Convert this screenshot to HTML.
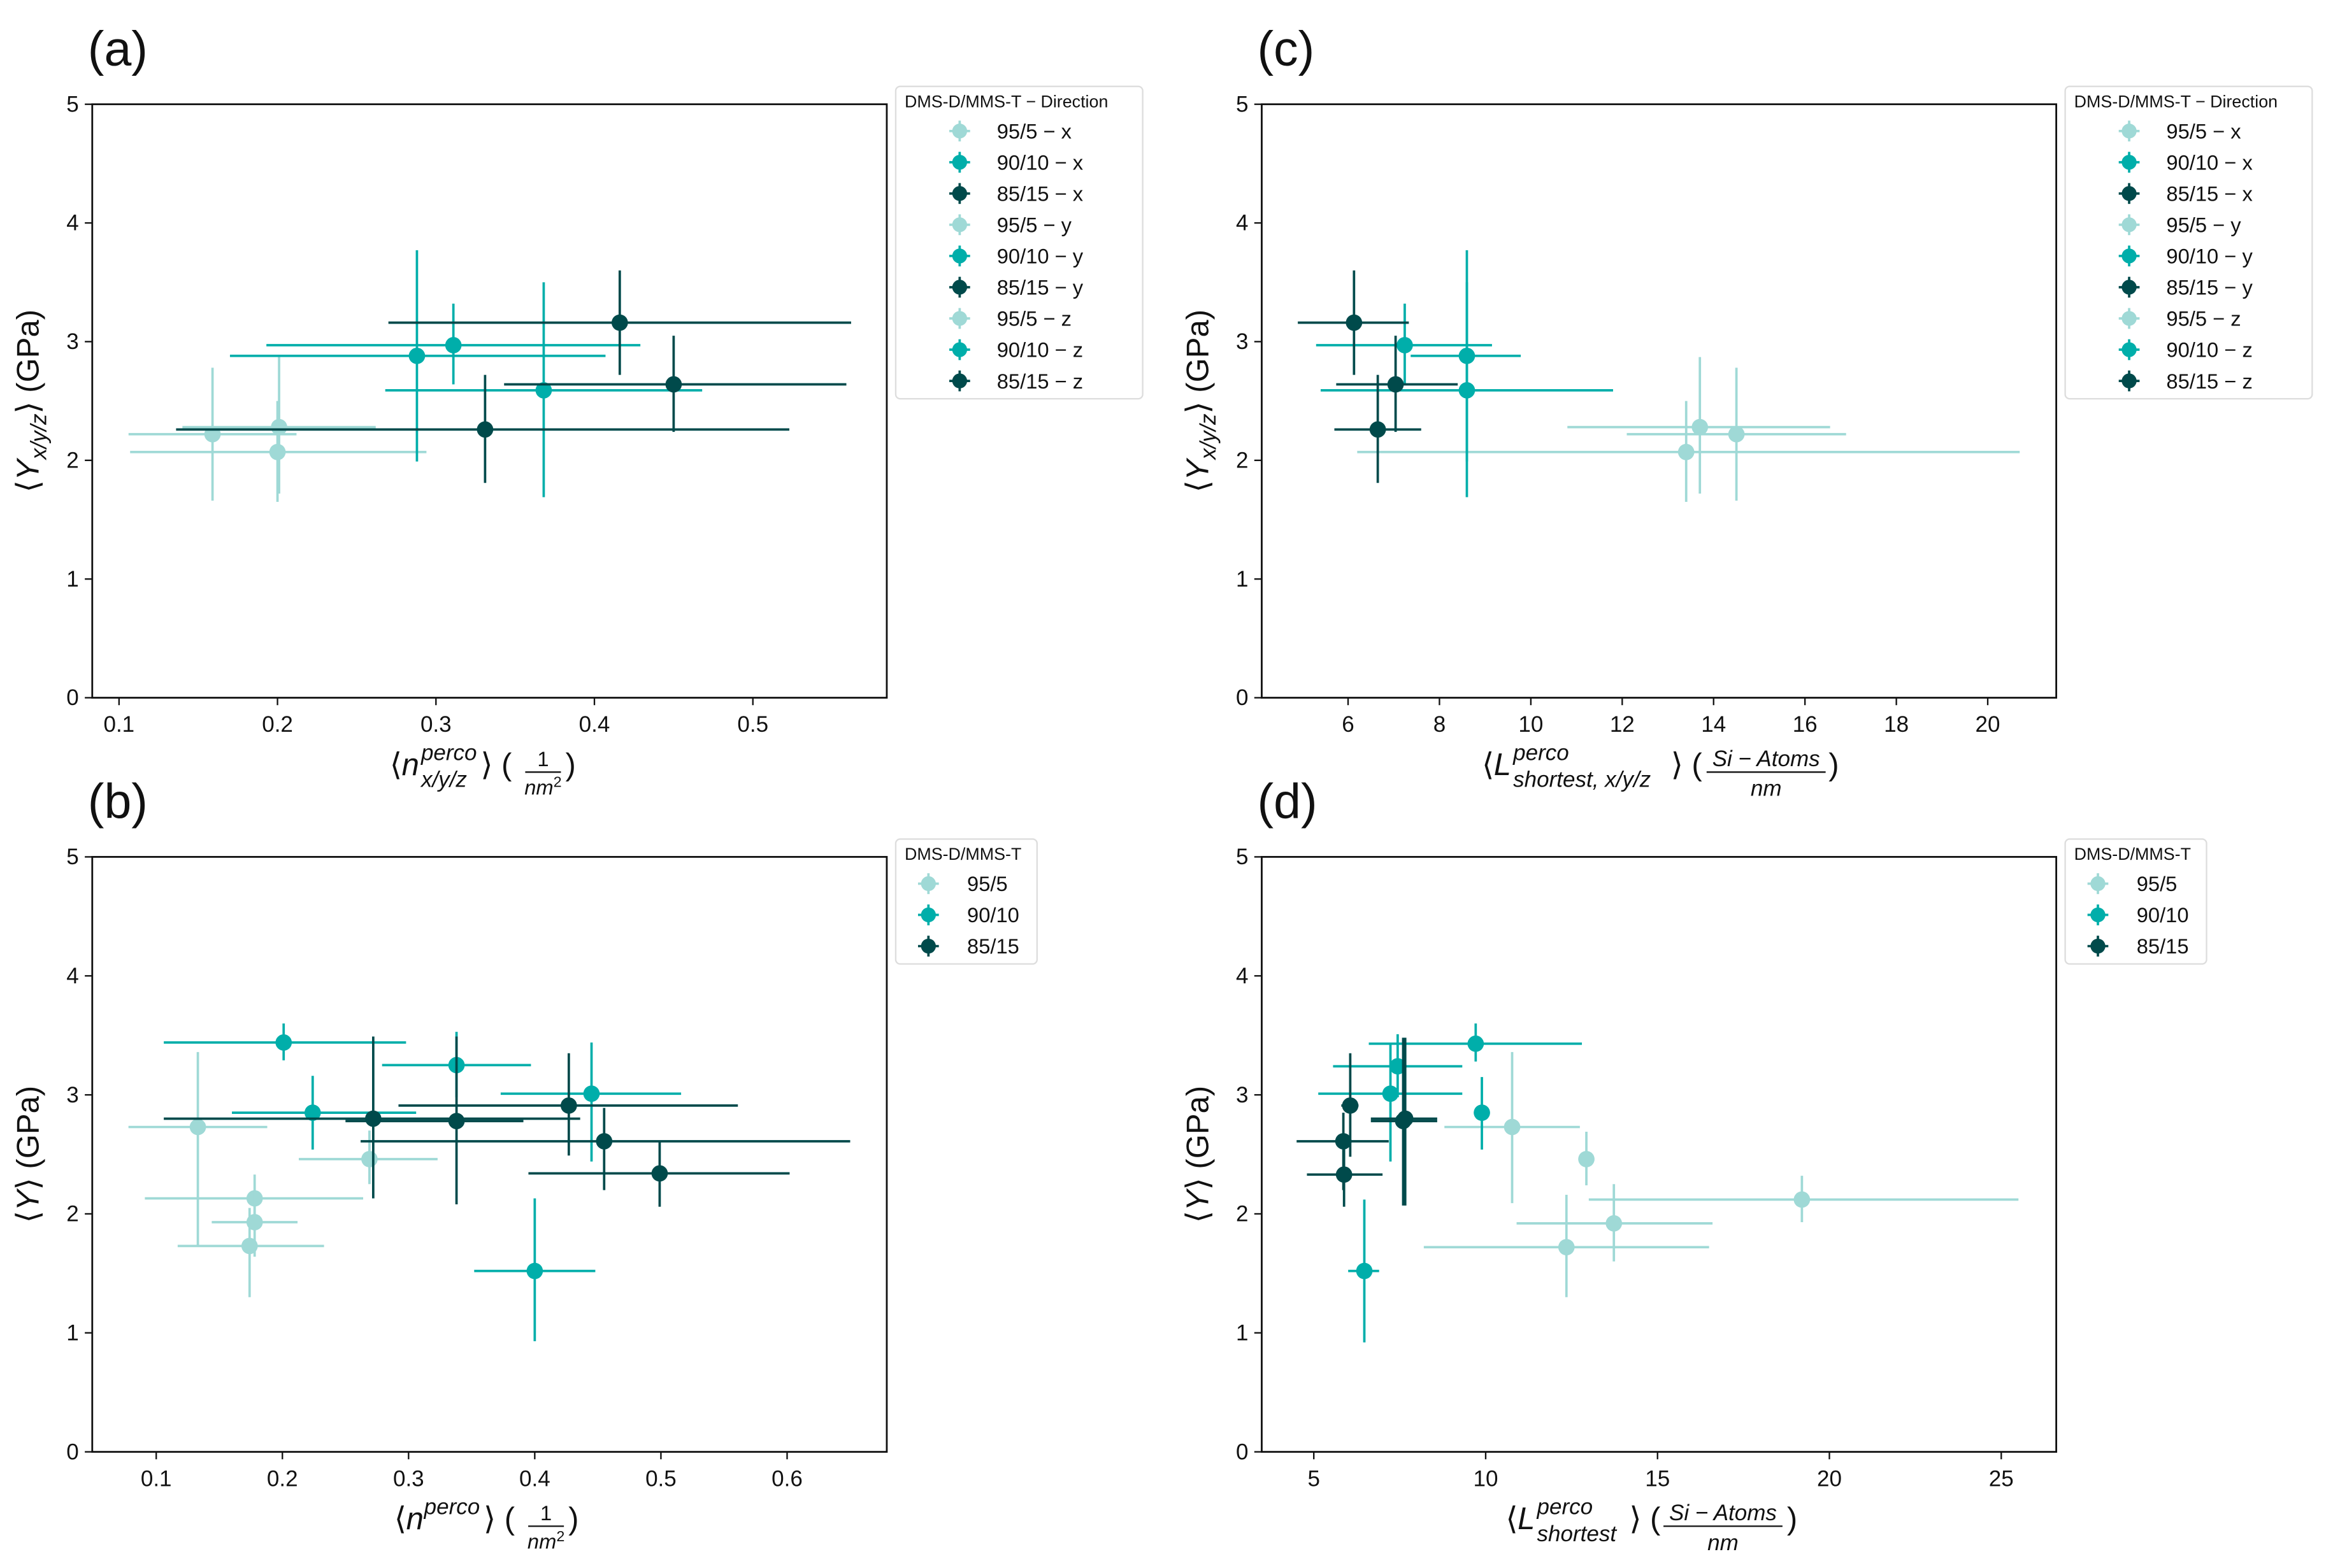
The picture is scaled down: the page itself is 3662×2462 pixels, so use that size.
<!DOCTYPE html>
<html><head><meta charset="utf-8"><style>
html,body{margin:0;padding:0;background:#fff}
svg{display:block}
text{font-family:"Liberation Sans","DejaVu Sans",sans-serif;fill:#111}
</style></head><body>
<svg id="fig" width="3662" height="2462" viewBox="0 0 1568 1054" xmlns="http://www.w3.org/2000/svg"></svg>
<script>
const COLORS=['#9fd9d6','#00aeaa','#004a4b'];
const GROUPS=['95/5','90/10','85/15'];
const DIRS=['x','y','z'];
const aX=[[0.159,0.201,0.200],[0.288,0.311,0.368],[0.416,0.331,0.450]];
const aXlo=[[0.106,0.140,0.107],[0.170,0.193,0.268],[0.270,0.136,0.343]];
const aXhi=[[0.212,0.262,0.294],[0.407,0.429,0.468],[0.562,0.523,0.559]];
const aY=[[2.22,2.28,2.07],[2.88,2.97,2.59],[3.16,2.26,2.64]];
const aYlo=[[1.66,1.72,1.65],[1.99,2.64,1.69],[2.72,1.81,2.24]];
const aYhi=[[2.78,2.87,2.50],[3.77,3.32,3.50],[3.60,2.72,3.05]];
const cX=[[14.5,13.7,13.4],[8.6,7.24,8.6],[6.13,6.65,7.04]];
const cXlo=[[12.1,10.8,6.2],[7.37,5.3,5.4],[4.9,5.7,5.74]];
const cXhi=[[16.9,16.55,20.7],[9.78,9.15,11.8],[7.33,7.6,8.4]];
const bX=[[0.133,0.178,0.178,0.174,0.269],[0.201,0.224,0.338,0.445,0.400],[0.272,0.338,0.427,0.455,0.499]];
const bXlo=[[0.078,0.091,0.144,0.117,0.213],[0.106,0.160,0.279,0.373,0.352],[0.106,0.250,0.292,0.262,0.395]];
const bXhi=[[0.188,0.264,0.212,0.233,0.323],[0.298,0.306,0.397,0.516,0.448],[0.436,0.391,0.561,0.650,0.602]];
const bY=[[2.73,2.13,1.93,1.73,2.46],[3.44,2.85,3.25,3.01,1.52],[2.80,2.78,2.91,2.61,2.34]];
const bYlo=[[1.73,1.93,1.64,1.30,2.25],[3.29,2.54,2.98,2.44,0.93],[2.13,2.08,2.49,2.20,2.06]];
const bYhi=[[3.36,2.33,2.20,2.05,2.70],[3.60,3.16,3.53,3.44,2.13],[3.49,3.49,3.35,2.89,2.61]];
const dX=[[10.77,12.93,19.2,13.73,12.35],[9.71,9.89,7.44,7.23,6.47],[7.66,7.6,6.06,5.86,5.88]];
const dXlo=[[8.8,12.8,13.0,10.9,8.2],[6.6,9.8,5.56,5.13,6.0],[6.66,6.66,5.8,4.5,4.8]];
const dXhi=[[12.74,13.05,25.5,16.6,16.5],[12.8,10.0,9.32,9.32,6.9],[8.59,8.59,6.3,7.18,7.0]];
const dY=[[2.73,2.46,2.12,1.92,1.72],[3.43,2.85,3.24,3.01,1.52],[2.80,2.78,2.91,2.61,2.33]];
const dYlo=[[2.09,2.24,1.93,1.60,1.30],[3.28,2.54,2.98,2.44,0.92],[2.07,2.07,2.48,2.20,2.06]];
const dYhi=[[3.36,2.69,2.32,2.25,2.16],[3.60,3.15,3.51,3.43,2.12],[3.48,3.48,3.35,2.85,2.60]];
const xTicksA=[0.1,0.2,0.3,0.4,0.5];
const xTicksB=[0.1,0.2,0.3,0.4,0.5,0.6];
const xTicksC=[6,8,10,12,14,16,18,20];
const xTicksD=[5,10,15,20,25];
const yTicks=[0,1,2,3,4,5];

const NS='http://www.w3.org/2000/svg';
const svg=document.getElementById('fig');
function el(tag,attrs,parent,txt){const e=document.createElementNS(NS,tag);for(const k in attrs)e.setAttribute(k,attrs[k]);if(txt!==undefined)e.textContent=txt;(parent||svg).appendChild(e);return e;}

function panel(cfg){
  const g=el('g',{});
  
  
  const L=cfg.L,R=cfg.R,T=cfg.T,B=cfg.B;
  const sx=v=>L+(v-cfg.xmin)/(cfg.xmax-cfg.xmin)*(R-L);
  const sy=v=>B-(v-0)/(5-0)*(B-T);
  const lab=el('text',{x:L-3,y:T-26,'font-size':33},g,'('+cfg.id+')');
  
  
  cfg.xt.forEach(t=>{
    const x=sx(t);
    el('line',{x1:x,x2:x,y1:B,y2:B+5,stroke:'#111','stroke-width':1},g);
    const tx=el('text',{x:x,y:B+23,'font-size':15,'text-anchor':'middle'},g,String(t));
    
    
  });
  yTicks.forEach(t=>{
    const y=sy(t);
    el('line',{x1:L-5,x2:L,y1:y,y2:y,stroke:'#111','stroke-width':1},g);
    const ty=el('text',{x:L-9,y:y+5,'font-size':15,'text-anchor':'end'},g,String(t));
    
    
  });
  for(let gi=0;gi<3;gi++){
    const n=cfg.X[gi].length;
    for(let i=0;i<n;i++){
      const pg=el('g',{},g);
      
      
      const c=COLORS[gi];
      const x=sx(cfg.X[gi][i]),y=sy(cfg.Y[gi][i]);
      el('line',{x1:sx(cfg.Xlo[gi][i]),x2:sx(cfg.Xhi[gi][i]),y1:y,y2:y,stroke:c,'stroke-width':1.6},pg);
      el('line',{x1:x,x2:x,y1:sy(cfg.Ylo[gi][i]),y2:sy(cfg.Yhi[gi][i]),stroke:c,'stroke-width':1.6},pg);
      el('circle',{cx:x,cy:y,r:5.5,fill:c},pg);
    }
  }
  el('rect',{x:L,y:T,width:R-L,height:B-T,fill:'none',stroke:'#111','stroke-width':1.2},g);
  const yl=el('text',{x:0,y:0,'font-size':21,'text-anchor':'middle',transform:`translate(${L-36},${(T+B)/2}) rotate(-90)`},g);
  
  
  yl.innerHTML=cfg.ylab;
  const xl=el('g',{transform:`translate(${(L+R)/2},${B+52})`},g);
  
  
  xl.innerHTML=cfg.xlab;
  const lg=el('g',{},g);
  
  
  const entries=cfg.dirs?[].concat(...DIRS.map(d=>GROUPS.map((gname,gi)=>[gname+' \u2212 '+d,gi]))):GROUPS.map((gname,gi)=>[gname,gi]);
  const lw=cfg.dirs?166:95, lh=cfg.dirs?210:84;
  el('rect',{x:R+6,y:T-12,width:lw,height:lh,rx:3,fill:'#fff',stroke:'#ddd','stroke-width':1},lg);
  el('text',{x:R+12,y:T+2,'font-size':11.5},lg,cfg.dirs?'DMS-D/MMS-T \u2212 Direction':'DMS-D/MMS-T');
  entries.forEach((e,k)=>{
    const y=T+18+k*21, mx=R+(cfg.dirs?49:28);
    const eg=el('g',{},lg);
    
    
    const c=COLORS[e[1]];
    el('line',{x1:mx-7,x2:mx+7,y1:y,y2:y,stroke:c,'stroke-width':1.6},eg);
    el('line',{x1:mx,x2:mx,y1:y-7,y2:y+7,stroke:c,'stroke-width':1.6},eg);
    el('circle',{cx:mx,cy:y,r:5,fill:c},eg);
    el('text',{x:mx+(cfg.dirs?25:26),y:y+5,'font-size':14},eg,e[0]);
  });
}
const labA=`<text x="-67" y="0" font-size="21">\u27E8</text><text x="-59" y="0" font-size="21" font-style="italic">n</text>
<text x="-46" y="-10" font-size="15" font-style="italic">perco</text><text x="-46" y="8" font-size="15" font-style="italic">x/y/z</text>
<text x="-6" y="0" font-size="21">\u27E9</text><text x="8" y="0" font-size="21">(</text>
<text x="36" y="-6" font-size="14" text-anchor="middle">1</text><line x1="24" x2="48" y1="-2" y2="-2" stroke="#111" stroke-width="1"/><text x="36" y="13" font-size="14" font-style="italic" text-anchor="middle">nm<tspan font-size="10" dy="-5" font-style="normal">2</tspan></text>
<text x="51" y="0" font-size="21">)</text>`;
const labB=`<text x="-64" y="0" font-size="21">\u27E8</text><text x="-56" y="0" font-size="21" font-style="italic">n</text>
<text x="-44" y="-10" font-size="15" font-style="italic">perco</text>
<text x="-4" y="0" font-size="21">\u27E9</text><text x="10" y="0" font-size="21">(</text>
<text x="38" y="-6" font-size="14" text-anchor="middle">1</text><line x1="26" x2="50" y1="-2" y2="-2" stroke="#111" stroke-width="1"/><text x="38" y="13" font-size="14" font-style="italic" text-anchor="middle">nm<tspan font-size="10" dy="-5" font-style="normal">2</tspan></text>
<text x="53" y="0" font-size="21">)</text>`;
const labC=`<text x="-119" y="0" font-size="21">\u27E8</text><text x="-111" y="0" font-size="21" font-style="italic">L</text>
<text x="-98" y="-10" font-size="15" font-style="italic">perco</text><text x="-98" y="8" font-size="15" font-style="italic">shortest, x/y/z</text>
<text x="8" y="0" font-size="21">\u27E9</text><text x="22" y="0" font-size="21">(</text>
<text x="72" y="-6" font-size="15" font-style="italic" text-anchor="middle">Si \u2212 Atoms</text><line x1="32" x2="112" y1="-2" y2="-2" stroke="#111" stroke-width="1"/><text x="72" y="14" font-size="15" font-style="italic" text-anchor="middle">nm</text>
<text x="114" y="0" font-size="21">)</text>`;
const labD=`<text x="-103" y="0" font-size="21">\u27E8</text><text x="-95" y="0" font-size="21" font-style="italic">L</text>
<text x="-82" y="-10" font-size="15" font-style="italic">perco</text><text x="-82" y="8" font-size="15" font-style="italic">shortest</text>
<text x="-20" y="0" font-size="21">\u27E9</text><text x="-6" y="0" font-size="21">(</text>
<text x="43" y="-6" font-size="15" font-style="italic" text-anchor="middle">Si \u2212 Atoms</text><line x1="3" x2="83" y1="-2" y2="-2" stroke="#111" stroke-width="1"/><text x="43" y="14" font-size="15" font-style="italic" text-anchor="middle">nm</text>
<text x="86" y="0" font-size="21">)</text>`;
const yA=`\u27E8<tspan font-style="italic">Y</tspan><tspan font-size="15" font-style="italic" dy="5">x/y/z</tspan><tspan dy="-5">\u27E9 (GPa)</tspan>`;
const yB=`\u27E8<tspan font-style="italic">Y</tspan>\u27E9 (GPa)`;
panel({id:'a',L:62,R:596,T:70,B:469,xmin:0.0831,xmax:0.5845,xt:xTicksA,X:aX,Xlo:aXlo,Xhi:aXhi,Y:aY,Ylo:aYlo,Yhi:aYhi,dirs:true,ylab:yA,xlab:labA});
panel({id:'c',L:848,R:1382,T:70,B:469,xmin:4.11,xmax:21.5,xt:xTicksC,X:cX,Xlo:cXlo,Xhi:cXhi,Y:aY,Ylo:aYlo,Yhi:aYhi,dirs:true,ylab:yA,xlab:labC});
panel({id:'b',L:62,R:596,T:576,B:976,xmin:0.0493,xmax:0.6790,xt:xTicksB,X:bX,Xlo:bXlo,Xhi:bXhi,Y:bY,Ylo:bYlo,Yhi:bYhi,dirs:false,ylab:yB,xlab:labB});
panel({id:'d',L:848,R:1382,T:576,B:976,xmin:3.485,xmax:26.6,xt:xTicksD,X:dX,Xlo:dXlo,Xhi:dXhi,Y:dY,Ylo:dYlo,Yhi:dYhi,dirs:false,ylab:yB,xlab:labD});
</script>
</body></html>
